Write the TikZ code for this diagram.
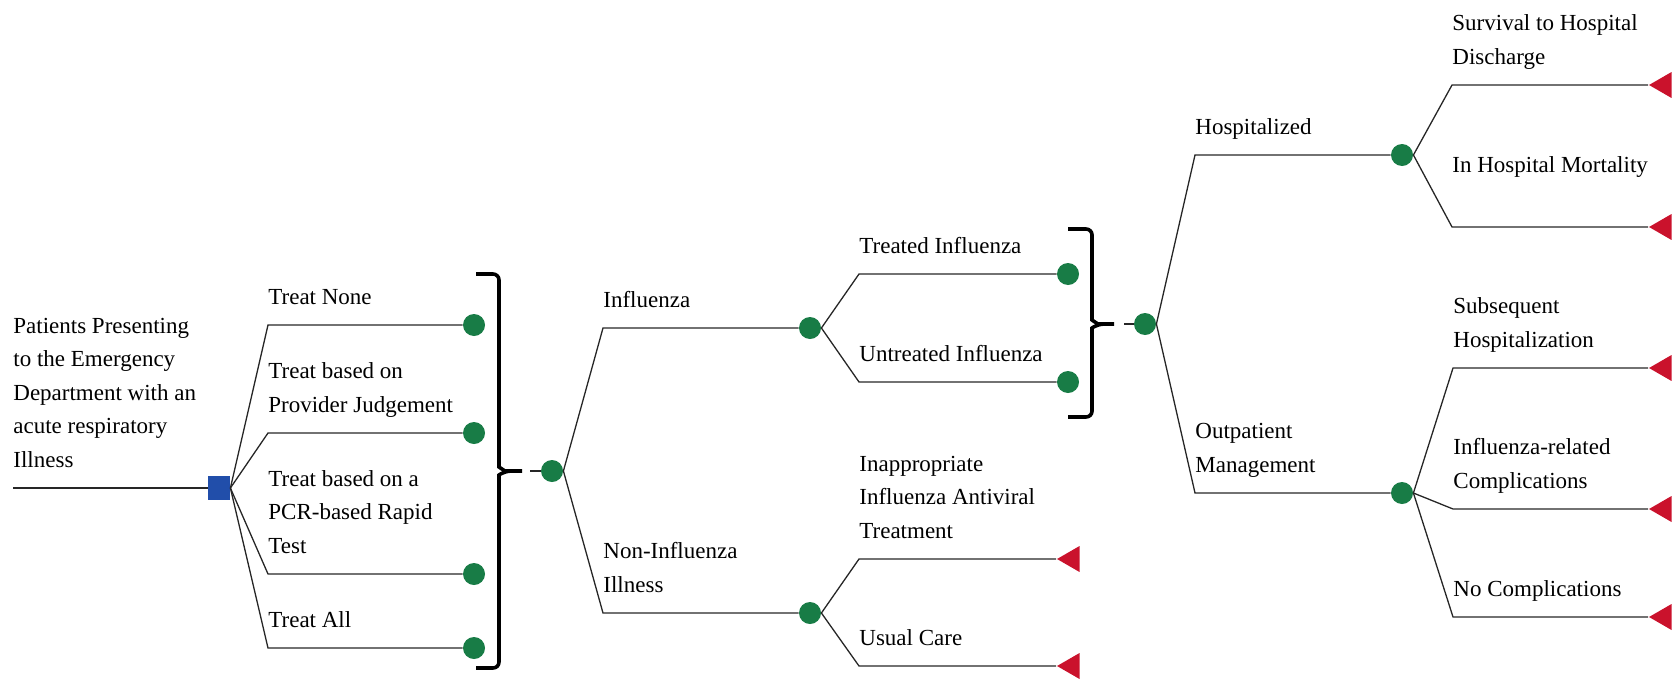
\documentclass[tikz,border=0pt]{standalone}
\usepackage{fontspec}
\setmainfont{Liberation Serif}
\newfontfamily\treefont{Liberation Serif}
\usetikzlibrary{shapes.geometric,positioning}

\definecolor{chancegreen}{RGB}{24,124,70}
\definecolor{decblue}{RGB}{33,78,170}
\definecolor{termred}{RGB}{202,18,44}
\newcommand{\lblfont}{\treefont\fontsize{11.5}{16.8}\selectfont}

\begin{document}
\begin{tikzpicture}[x=0.5pt, y=-0.5pt,
    branch/.style={draw=black!85, line width=0.65pt},
    chance/.style={circle, fill=chancegreen, inner sep=0pt, minimum size=11pt},
    decision/.style={rectangle, fill=decblue, inner sep=0pt, minimum width=11pt, minimum height=12pt},
    terminal/.style={regular polygon, regular polygon sides=3, shape border rotate=90,
    fill=termred, inner sep=0pt, minimum size=15pt},
    lbl/.style={anchor=south west, inner sep=0pt, align=left, font=\lblfont},
    bracket/.style={draw=black, line width=1.8pt, rounded corners=3pt}]
    \useasboundingbox (0,0) rectangle (1673,680);

    % root and decision
    \coordinate (root) at (13,488);
    \node (dec) [decision] at (219,488) {};
    \node (rootlbl) [lbl] at ([yshift=5pt]root) {Patients Presenting\\ to the Emergency\\ Department with an\\ acute respiratory\\ Illness\strut};
    \draw[branch] (root) -- (dec);

    % strategies
    \coordinate (k1) at (268,325);
    \coordinate (k2) at (268,433);
    \coordinate (k3) at (268,574);
    \coordinate (k4) at (268,648);
    \node (t1) [chance] at (474,325) {};
    \node (t2) [chance] at (474,433) {};
    \node (t3) [chance] at (474,574) {};
    \node (t4) [chance] at (474,648) {};
    \foreach \i in {1,...,4}
        \draw[branch] (dec.east) -- (k\i) -- (t\i);
    \node (l1) [lbl] at ([yshift=5pt]k1) {Treat None\strut};
    \node (l2) [lbl] at ([yshift=5pt]k2) {Treat based on\\ Provider Judgement\strut};
    \node (l3) [lbl] at ([yshift=5pt]k3) {Treat based on a\\ PCR-based Rapid\\ Test\strut};
    \node (l4) [lbl] at ([yshift=5pt]k4) {Treat All\strut};

    % first bracket
    \draw[bracket] (476,274) -- (499,274) -- (499,461) to[out=-90, in=180] (511,471) -- (522,471);
    \draw[bracket] (476,668) -- (499,668) -- (499,481) to[out=90, in=180] (511,471);
    \coordinate (s2) at (530,471);
    \node (c2) [chance] at (552,471) {};
    \draw[branch] (s2) -- (c2);

    % influenza / non-influenza
    \coordinate (k5) at (603,328);
    \coordinate (k6) at (603,613);
    \node (flu) [chance] at (810,328) {};
    \node (nonflu) [chance] at (810,613) {};
    \draw[branch] (c2.east) -- (k5) -- (flu);
    \draw[branch] (c2.east) -- (k6) -- (nonflu);
    \node (l5) [lbl] at ([yshift=5pt]k5) {Influenza\strut};
    \node (l6) [lbl] at ([yshift=5pt]k6) {Non-Influenza\\ Illness\strut};

    % treated / untreated
    \coordinate (k7) at (859,274);
    \coordinate (k8) at (859,382);
    \node (trt) [chance] at (1068,274) {};
    \node (untrt) [chance] at (1068,382) {};
    \draw[branch] (flu.east) -- (k7) -- (trt);
    \draw[branch] (flu.east) -- (k8) -- (untrt);
    \node (l7) [lbl] at ([yshift=5pt]k7) {Treated Influenza\strut};
    \node (l8) [lbl] at ([yshift=5pt]k8) {Untreated Influenza\strut};

    % non-influenza outcomes
    \coordinate (k9) at (859,559);
    \coordinate (k10) at (859,666);
    \node (inap) [terminal] at (1072,559) {};
    \node (usual) [terminal] at (1072,666) {};
    \draw[branch] (nonflu.east) -- (k9) -- (inap);
    \draw[branch] (nonflu.east) -- (k10) -- (usual);
    \node (l9) [lbl] at ([yshift=5pt]k9) {Inappropriate\\ Influenza Antiviral\\ Treatment\strut};
    \node (l10) [lbl] at ([yshift=5pt]k10) {Usual Care\strut};

    % second bracket
    \draw[bracket] (1068,229) -- (1092,229) -- (1092,314) to[out=-90, in=180] (1104,324) -- (1114,324);
    \draw[bracket] (1068,417) -- (1092,417) -- (1092,334) to[out=90, in=180] (1104,324);
    \coordinate (s4) at (1124,324);
    \node (c4) [chance] at (1145,324) {};
    \draw[branch] (s4) -- (c4);

    % hospitalized / outpatient
    \coordinate (k11) at (1195,155);
    \coordinate (k12) at (1195,493);
    \node (hosp) [chance] at (1402,155) {};
    \node (outp) [chance] at (1402,493) {};
    \draw[branch] (c4.east) -- (k11) -- (hosp);
    \draw[branch] (c4.east) -- (k12) -- (outp);
    \node (l11) [lbl] at ([yshift=5pt]k11) {Hospitalized\strut};
    \node (l12) [lbl] at ([yshift=5pt]k12) {Outpatient\\ Management\strut};

    % final outcomes
    \coordinate (k13) at (1452,85);
    \coordinate (k14) at (1452,227);
    \coordinate (k15) at (1453,368);
    \coordinate (k16) at (1453,509);
    \coordinate (k17) at (1453,617);
    \node (surv) [terminal] at (1664,85) {};
    \node (mort) [terminal] at (1664,227) {};
    \node (subs) [terminal] at (1664,368) {};
    \node (compl) [terminal] at (1664,509) {};
    \node (nocomp) [terminal] at (1664,617) {};
    \draw[branch] (hosp.east) -- (k13) -- (surv);
    \draw[branch] (hosp.east) -- (k14) -- (mort);
    \draw[branch] (outp.east) -- (k15) -- (subs);
    \draw[branch] (outp.east) -- (k16) -- (compl);
    \draw[branch] (outp.east) -- (k17) -- (nocomp);
    \node (l13) [lbl] at ([yshift=5pt]k13) {Survival to Hospital\\ Discharge\strut};
    \node (l14) [lbl] at ([yshift=5pt]k14) {In Hospital Mortality\\ \strut};
    \node (l15) [lbl] at ([yshift=5pt]k15) {Subsequent\\ Hospitalization\strut};
    \node (l16) [lbl] at ([yshift=5pt]k16) {Influenza-related\\ Complications\strut};
    \node (l17) [lbl] at ([yshift=5pt]k17) {No Complications\strut};
\end{tikzpicture}
\end{document}
